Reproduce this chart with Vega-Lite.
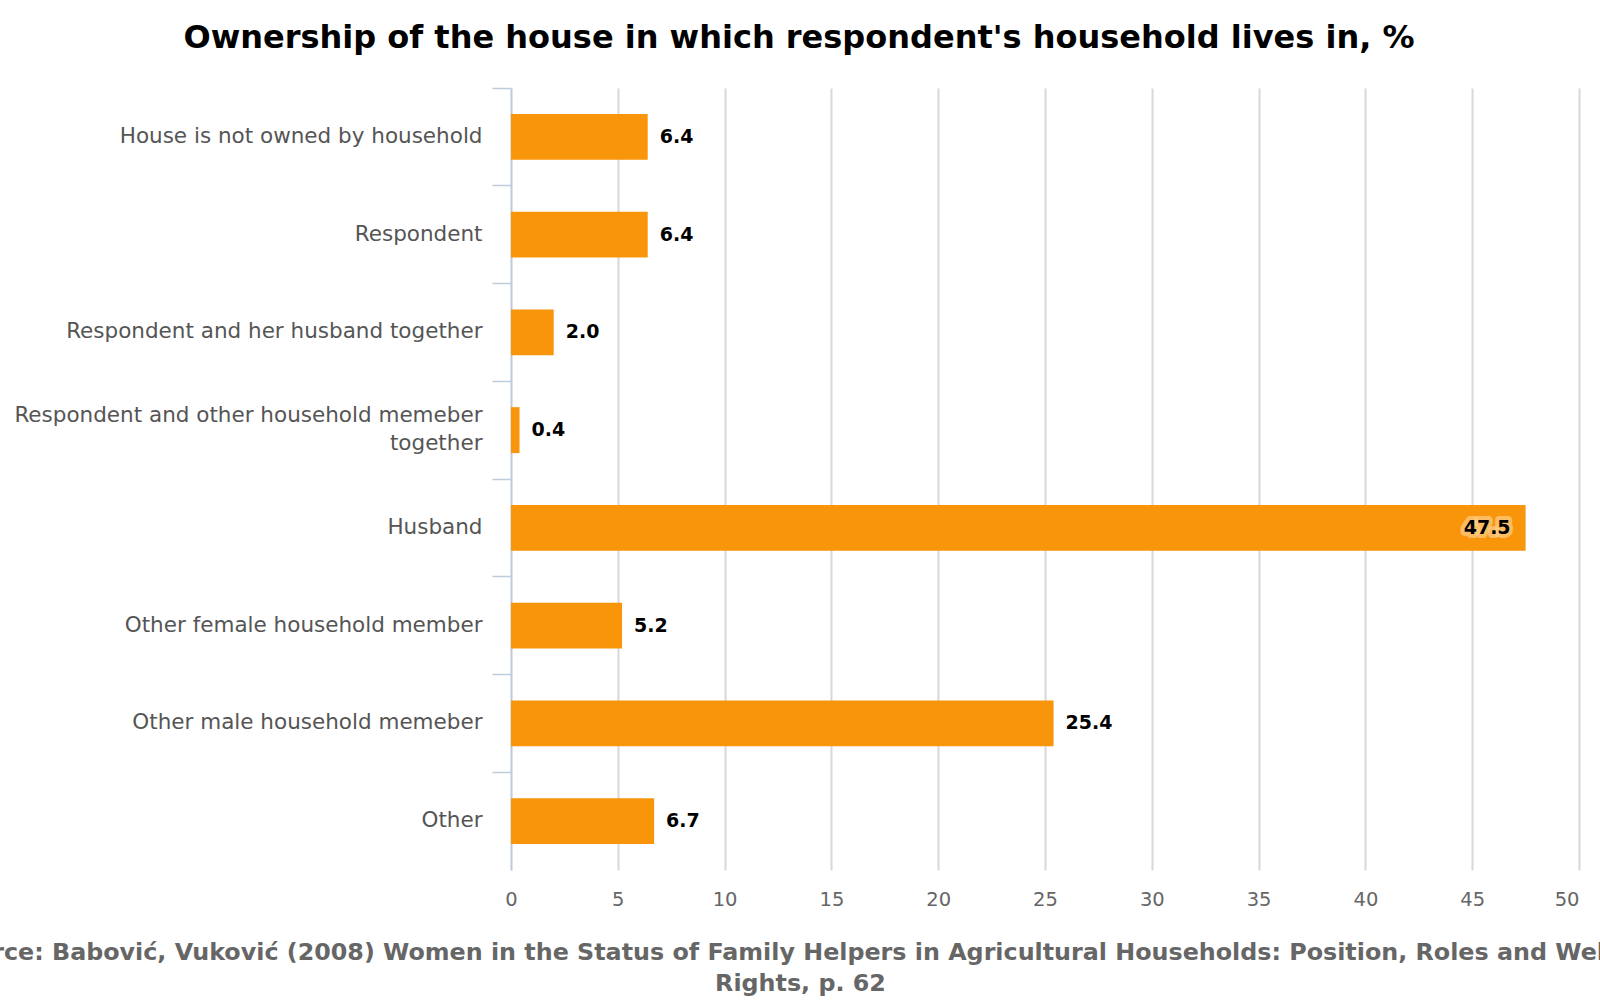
{
  "$schema": "https://vega.github.io/schema/vega-lite/v6.json",
  "description": "Ownership of the house in which respondent's household lives in",
  "autosize": {"type": "none"},
  "padding": {"left": 511, "top": 88, "right": 21, "bottom": 130},
  "width": 1068,
  "height": 782,
  "background": "white",
  "title": {
    "text": "Ownership of the house in which respondent's household lives in, %",
    "font": "DejaVu Sans",
    "fontSize": 32,
    "fontWeight": "bold",
    "color": "black",
    "anchor": "middle",
    "dx": -246,
    "offset": 32
  },
  "config": {
    "view": {"stroke": null},
    "axis": {"labelFont": "DejaVu Sans", "titleFont": "DejaVu Sans"}
  },
  "data": {
    "values": [
      {"owner": "House is not owned by household", "pct": 6.4},
      {"owner": "Respondent", "pct": 6.4},
      {"owner": "Respondent and her husband together", "pct": 2.0},
      {"owner": "Respondent and other household memeber together", "pct": 0.4},
      {"owner": "Husband", "pct": 47.5},
      {"owner": "Other female household member", "pct": 5.2},
      {"owner": "Other male household memeber", "pct": 25.4},
      {"owner": "Other", "pct": 6.7}
    ]
  },
  "layer": [
    {
      "mark": {"type": "bar", "color": "#F8950B", "height": {"band": 0.47}},
      "encoding": {
        "y": {
          "field": "owner",
          "type": "nominal",
          "sort": null,
          "scale": {"padding": 0},
          "axis": {
            "title": null,
            "bandPosition": 0,
            "domainColor": "#BCCCDC",
            "domainWidth": 1.5,
            "tickColor": "#BCCCDC",
            "tickWidth": 1.5,
            "tickSize": 19,
            "labelFontSize": 21.5,
            "labelColor": "#555555",
            "labelPadding": 10,
            "labelLimit": 600,
            "labelLineHeight": 28,
            "labelOffset": {"condition": {"test": "datum.value == 'Respondent and other household memeber together'", "value": -14}, "value": 0},
            "labelExpr": "datum.label == 'Respondent and other household memeber together' ? ['Respondent and other household memeber', 'together'] : datum.label"
          }
        },
        "x": {
          "field": "pct",
          "type": "quantitative",
          "scale": {"domain": [0, 50], "nice": false},
          "axis": {
            "values": [0, 5, 10, 15, 20, 25, 30, 35, 40, 45, 50],
            "grid": true,
            "gridColor": "#D8D8D8",
            "gridWidth": 2,
            "domain": false,
            "ticks": false,
            "labelFlush": false,
            "labelAlign": {"condition": {"test": "datum.value == 50", "value": "right"}, "value": "center"},
            "labelFontSize": 19.5,
            "labelColor": "#666666",
            "labelPadding": 20,
            "title": ["Source: Babović, Vuković (2008) Women in the Status of Family Helpers in Agricultural Households: Position, Roles and Welfare", "Rights, p. 62"],
            "titleFontSize": 23.8,
            "titleFontWeight": "bold",
            "titleColor": "#666666",
            "titleX": 289,
            "titleY": 82,
            "titleAlign": "center",
            "titleBaseline": "middle",
            "titleLineHeight": 31
          }
        }
      }
    },
    {
      "transform": [{"filter": "datum.pct < 40"}],
      "mark": {
        "type": "text",
        "align": "left",
        "baseline": "middle",
        "dx": 12,
        "font": "DejaVu Sans",
        "fontSize": 19,
        "fontWeight": "bold",
        "color": "black"
      },
      "encoding": {
        "y": {"field": "owner", "type": "nominal", "sort": null},
        "x": {"field": "pct", "type": "quantitative"},
        "text": {"field": "pct", "type": "quantitative", "format": ".1f"}
      }
    },
    {
      "transform": [{"filter": "datum.pct >= 40"}],
      "mark": {
        "type": "text",
        "align": "right",
        "baseline": "middle",
        "dx": -15,
        "font": "DejaVu Sans",
        "fontSize": 19,
        "fontWeight": "bold",
        "color": "#FFD08A",
        "stroke": "#FFD08A",
        "strokeWidth": 8,
        "strokeOpacity": 0.7,
        "strokeJoin": "round"
      },
      "encoding": {
        "y": {"field": "owner", "type": "nominal", "sort": null},
        "x": {"field": "pct", "type": "quantitative"},
        "text": {"field": "pct", "type": "quantitative", "format": ".1f"}
      }
    },
    {
      "transform": [{"filter": "datum.pct >= 40"}],
      "mark": {
        "type": "text",
        "align": "right",
        "baseline": "middle",
        "dx": -15,
        "font": "DejaVu Sans",
        "fontSize": 19,
        "fontWeight": "bold",
        "color": "black"
      },
      "encoding": {
        "y": {"field": "owner", "type": "nominal", "sort": null},
        "x": {"field": "pct", "type": "quantitative"},
        "text": {"field": "pct", "type": "quantitative", "format": ".1f"}
      }
    }
  ]
}
